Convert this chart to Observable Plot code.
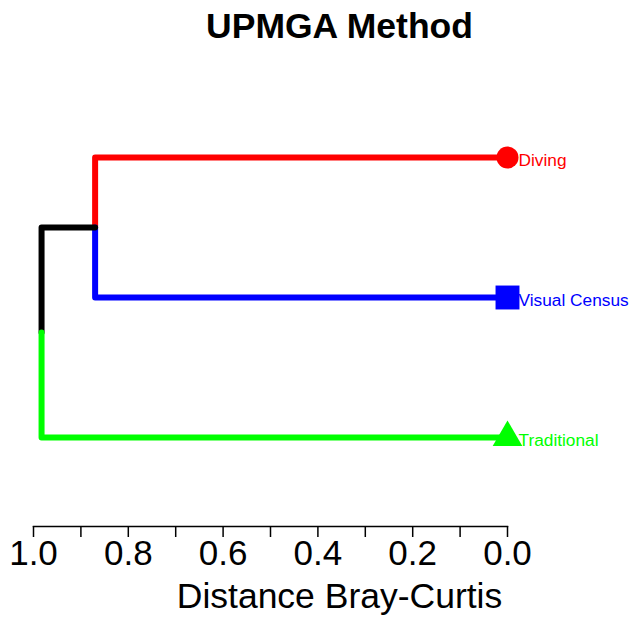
<!DOCTYPE html>
<html><head><meta charset="utf-8">
<script src="https://cdn.jsdelivr.net/npm/d3@7"></script>
<script src="https://cdn.jsdelivr.net/npm/@observablehq/plot@0.6"></script>
<style>body{margin:0;background:#fff;}</style>
</head><body><div id="chart"></div>
<script>
const title = "UPMGA Method";
const xLabel = "Distance Bray-Curtis";
const leaves = ["Diving", "Visual Census", "Traditional"];
const leafColors = ["#ff0000", "#0000ff", "#00ff00"];
const leafSymbols = ["circle", "square", "triangle"];
const leafSizes = [11, 13.5, 11];
const leafHeights = [0, 0, 0];
const mergeHeights = [0.87, 0.983]; // (Diving, Visual Census), root
const tickValues = [1.0, 0.9, 0.8, 0.7, 0.6, 0.5, 0.4, 0.3, 0.2, 0.1, 0.0];
const tickLabels = ["1.0", "", "0.8", "", "0.6", "", "0.4", "", "0.2", "", "0.0"];

const yPos = leaves.map((d, i) => i + 1);
const node1Y = (yPos[0] + yPos[1]) / 2;
const rootY = (node1Y + yPos[2]) / 2;
const [h1, h2] = mergeHeights;

const branches = [
  {b: "a", stroke: leafColors[0], pts: [[leafHeights[0], yPos[0]], [h1, yPos[0]], [h1, node1Y]]},
  {b: "b", stroke: leafColors[1], pts: [[leafHeights[1], yPos[1]], [h1, yPos[1]], [h1, node1Y]]},
  {b: "c", stroke: "#000000", pts: [[h1, node1Y], [h2, node1Y], [h2, rootY]]},
  {b: "d", stroke: leafColors[2], pts: [[leafHeights[2], yPos[2]], [h2, yPos[2]], [h2, rootY]]}
];
const rows = branches.flatMap(br => br.pts.map(([x, y]) => ({x, y, b: br.b, stroke: br.stroke})));
const leafRows = leaves.map((name, i) => ({name, x: leafHeights[i], y: yPos[i], color: leafColors[i]}));

const font = "'Liberation Sans', Arial, sans-serif";

const plot = Plot.plot({
  width: 630,
  height: 617,
  marginLeft: 33,
  marginRight: 123,
  marginTop: 0,
  marginBottom: 91,
  style: {fontFamily: font, background: "#fff", overflow: "visible"},
  x: {domain: [1, 0]},
  y: {domain: [1, 3], range: [157, 437], axis: null},
  color: {type: "identity"},
  marks: [
    Plot.frame({anchor: "bottom", strokeWidth: 1.5}),
    Plot.axisX({
      ticks: tickValues,
      tickFormat: d => tickLabels[tickValues.findIndex(t => Math.abs(t - d) < 1e-9)],
      tickSize: 11,
      tickPadding: 3,
      fontSize: 35,
      strokeWidth: 1.5,
      label: null
    }),
    Plot.line(rows, {x: "x", y: "y", z: "b", stroke: "stroke", strokeWidth: 6, strokeLinejoin: "round", strokeLinecap: "round"}),
    ...leafRows.map((d, i) => Plot.dot([d], {x: "x", y: "y", symbol: leafSymbols[i], r: leafSizes[i], fill: leafColors[i], stroke: "none"})),
    Plot.text(leafRows, {x: "x", y: "y", text: "name", fill: "color", textAnchor: "start", lineAnchor: "middle", dx: 11, dy: 2.5, fontSize: 17.3}),
    Plot.text([title], {frameAnchor: "top", lineAnchor: "middle", dx: 69, dy: 26, fontSize: 35.5, fontWeight: "bold", fill: "#000"}),
    Plot.text([xLabel], {frameAnchor: "bottom", lineAnchor: "middle", dx: 69, dy: 70, fontSize: 35.5, fill: "#000"})
  ]
});
document.getElementById("chart").append(plot);
</script>
</body></html>
